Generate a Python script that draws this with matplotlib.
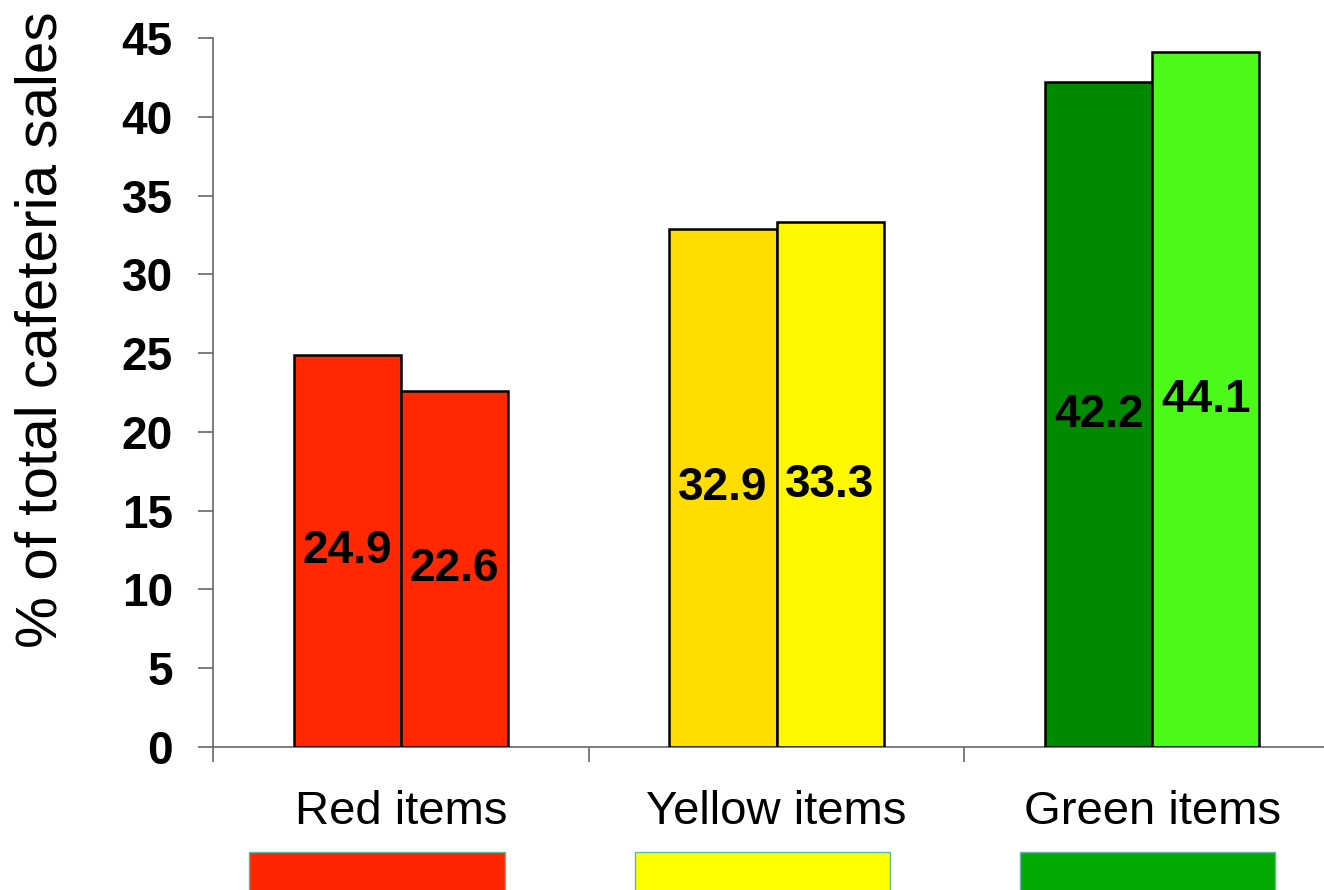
import matplotlib.pyplot as plt
import numpy as np
from matplotlib.patches import Rectangle
from matplotlib.transforms import blended_transform_factory

plt.rcParams["font.family"] = ["Liberation Sans", "DejaVu Sans"]

categories = ["Red items", "Yellow items", "Green items"]
first_values = [24.9, 32.9, 42.2]
second_values = [22.6, 33.3, 44.1]
first_colors = ["#FF2800", "#FFDD00", "#008A00"]
second_colors = ["#FF2800", "#FFF700", "#4CFA1A"]
swatch_colors = ["#FF2600", "#FFFF00", "#00AA00"]
y_ticks = [0, 5, 10, 15, 20, 25, 30, 35, 40, 45]


def main() -> None:
    fig = plt.figure(figsize=(13.24, 8.9), dpi=100)
    ax = fig.add_axes([0.1609, 0.1607, 0.8512, 0.7966])

    x = np.arange(len(categories))
    width = 0.285

    bars1 = ax.bar(x - width / 2, first_values, width, color=first_colors,
                   edgecolor="black", linewidth=1.8, zorder=3)
    bars2 = ax.bar(x + width / 2, second_values, width, color=second_colors,
                   edgecolor="black", linewidth=1.8, zorder=3)

    # value labels sit at half the bar height
    for bars, vals in ((bars1, first_values), (bars2, second_values)):
        for bar, val in zip(bars, vals):
            ax.text(bar.get_x() + bar.get_width() / 2, val / 2, f"{val:.1f}",
                    ha="center", va="center", fontsize=33, fontweight="bold",
                    zorder=4)

    ax.set_xlim(-0.5, len(categories) - 0.5)
    ax.set_ylim(0, 45)
    ax.set_yticks(y_ticks)
    ax.set_yticklabels([str(t) for t in y_ticks], fontsize=33, fontweight="bold")
    ax.tick_params(axis="y", direction="out", length=11, width=1.2,
                   color="#666666", pad=18)

    ax.set_xticks(np.arange(len(categories) + 1) - 0.5)
    ax.set_xticklabels([])
    ax.tick_params(axis="x", direction="out", length=11, width=1.2,
                   color="#666666")

    for side in ("top", "right"):
        ax.spines[side].set_visible(False)
    for side in ("left", "bottom"):
        ax.spines[side].set_color("#666666")
        ax.spines[side].set_linewidth(1.2)

    ax.set_ylabel("% of total cafeteria sales", fontsize=42)
    ax.yaxis.set_label_coords(-0.128, 0.588)

    trans = blended_transform_factory(ax.transData, ax.transAxes)
    for i, (name, col) in enumerate(zip(categories, swatch_colors)):
        ax.text(i, -0.092, name, transform=trans, ha="center", va="center",
                fontsize=34)
        # colour key boxes under the category names
        ax.add_patch(Rectangle((i * 1.026 - 0.404, -0.22), 0.68, 0.072,
                               transform=trans, facecolor=col,
                               edgecolor="#5FB8A8", linewidth=1.0,
                               clip_on=False))

    fig.savefig("out.png", dpi=100)
    plt.close(fig)


if __name__ == "__main__":
    main()
